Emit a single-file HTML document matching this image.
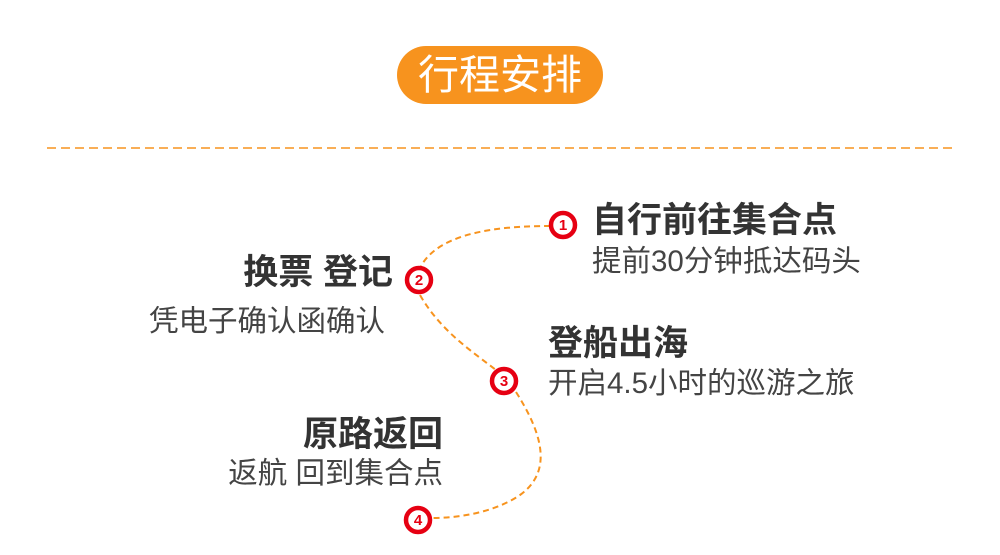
<!DOCTYPE html>
<html><head><meta charset="utf-8"><style>
body{margin:0;width:1000px;height:555px;background:#fff;position:relative;overflow:hidden;font-family:"Liberation Sans","Noto Sans CJK SC",sans-serif;color:#333}
.pill{position:absolute;left:397px;top:46px;width:206px;height:58px;border-radius:29px;background:#f7931e;color:#fff;font-size:41px;line-height:58px;text-align:center;letter-spacing:0px}
.t{position:absolute;white-space:nowrap;line-height:1}
.b{font-weight:bold;font-size:35px;color:#333}
.s{font-size:29.5px;color:#444}
.r{text-align:right}
</style></head><body>
<div class="pill">行程安排</div>
<svg width="1000" height="555" style="position:absolute;left:0;top:0">
<line x1="47" y1="148" x2="953" y2="148" stroke="#f7931e" stroke-width="1.5" stroke-dasharray="9,5"/>
<g fill="none" stroke="#f7931e" stroke-width="2" stroke-dasharray="6,4">
<path d="M550 226 C500 226 440 232 421 266"/>
<path d="M420 295 C440 330 470 350 496 370"/>
<path d="M516 392 C540 430 555 470 520 495 C495 512 460 518 432 518"/>
</g>
<g stroke="#e60012" stroke-width="4.5" fill="#fff">
<circle cx="563" cy="225" r="12"/><circle cx="419" cy="280" r="12"/>
<circle cx="504" cy="381" r="12"/><circle cx="418" cy="520" r="12"/>
</g>
<g fill="#e60012" font-size="15" font-weight="bold" text-anchor="middle" font-family="Liberation Sans,sans-serif">
<text x="563" y="230">1</text><text x="419" y="285">2</text><text x="504" y="386">3</text><text x="418" y="525">4</text>
</g>
</svg>
<div class="t b" style="left:592px;top:203px">自行前往集合点</div>
<div class="t s" style="left:592px;top:247px">提前30分钟抵达码头</div>
<div class="t b r" style="right:607px;top:255px">换票 登记</div>
<div class="t s r" style="right:615px;top:307px">凭电子确认函确认</div>
<div class="t b" style="left:548px;top:326px">登船出海</div>
<div class="t s" style="left:548px;top:369px">开启4.5小时的巡游之旅</div>
<div class="t b r" style="right:557px;top:417px">原路返回</div>
<div class="t s r" style="right:557px;top:459px">返航 回到集合点</div>
</body></html>
